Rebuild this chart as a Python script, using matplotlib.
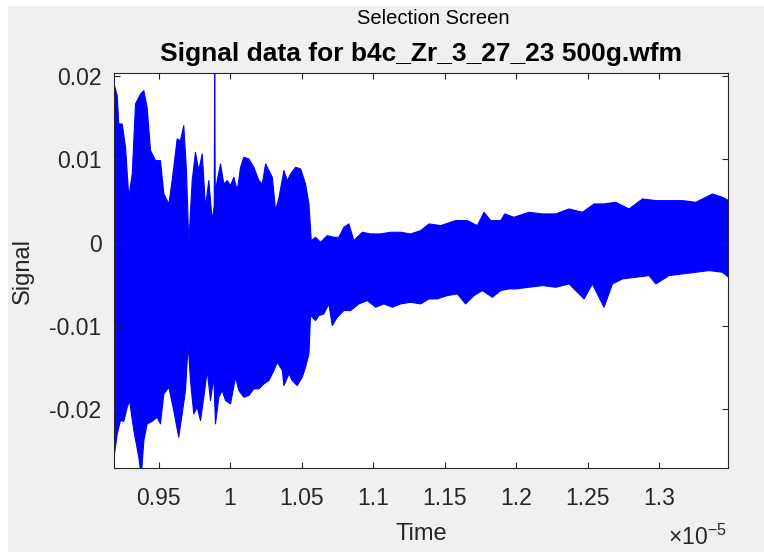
import matplotlib
matplotlib.use("Agg")
import matplotlib.pyplot as plt
import numpy as np
from matplotlib.patches import Rectangle
from matplotlib.ticker import FuncFormatter, MultipleLocator

plt.rcParams["mathtext.fontset"] = "custom"
plt.rcParams["mathtext.rm"] = "Liberation Sans"
plt.rcParams["mathtext.it"] = "Liberation Sans:italic"

# Envelope of the waveform (time in units of 1e-5 s).
upper_time = [
    0.9189, 0.9208, 0.9219, 0.9243, 0.9266, 0.9289, 0.9313, 0.9336, 0.9371, 0.9394,
    0.9417, 0.9441, 0.9476, 0.9510, 0.9534, 0.9569, 0.9592, 0.9627, 0.9650, 0.9673,
    0.9692, 0.9708, 0.9732, 0.9755, 0.9778, 0.9802, 0.9825, 0.9848, 0.9872, 0.9886,
    0.9889, 0.9893, 0.9907, 0.9930, 0.9953, 0.9977, 1.0000, 1.0023, 1.0047, 1.0070,
    1.0093, 1.0128, 1.0163, 1.0198, 1.0222, 1.0245, 1.0268, 1.0292, 1.0315, 1.0339,
    1.0373, 1.0397, 1.0420, 1.0455, 1.0490, 1.0524, 1.0548, 1.0564, 1.0594, 1.0629,
    1.0676, 1.0722, 1.0757, 1.0792, 1.0827, 1.0862, 1.0921, 1.0979, 1.1049, 1.1119,
    1.1189, 1.1259, 1.1329, 1.1387, 1.1469, 1.1573, 1.1655, 1.1725, 1.1771, 1.1818,
    1.1888, 1.1916, 1.1981, 1.2086, 1.2180, 1.2273, 1.2366, 1.2459, 1.2541, 1.2610,
    1.2692, 1.2785, 1.2879, 1.2972, 1.3065, 1.3159, 1.3252, 1.3322, 1.3368, 1.3438,
    1.3480,
]
upper_signal = [
    0.0189, 0.0177, 0.0143, 0.0143, 0.0115, 0.0055, 0.0083, 0.0167, 0.0179, 0.0183,
    0.0163, 0.0111, 0.0099, 0.0099, 0.0059, 0.0047, 0.0075, 0.0125, 0.0123, 0.0141,
    0.0087, 0.0000, 0.0075, 0.0109, 0.0087, 0.0107, 0.0043, 0.0075, 0.0027, 0.0045,
    0.0210, 0.0060, 0.0075, 0.0095, 0.0071, 0.0075, 0.0069, 0.0079, 0.0063, 0.0091,
    0.0103, 0.0101, 0.0091, 0.0075, 0.0071, 0.0095, 0.0087, 0.0079, 0.0039, 0.0055,
    0.0087, 0.0075, 0.0083, 0.0091, 0.0089, 0.0071, 0.0047, 0.0003, 0.0007, 0.0001,
    0.0009, 0.0007, 0.0007, 0.0019, 0.0023, 0.0003, 0.0013, 0.0011, 0.0011, 0.0013,
    0.0013, 0.0011, 0.0015, 0.0023, 0.0021, 0.0027, 0.0027, 0.0021, 0.0037, 0.0027,
    0.0027, 0.0035, 0.0031, 0.0037, 0.0035, 0.0035, 0.0041, 0.0037, 0.0047, 0.0047,
    0.0049, 0.0041, 0.0053, 0.0051, 0.0051, 0.0051, 0.0049, 0.0055, 0.0059, 0.0055,
    0.0051,
]
lower_time = [
    0.9189, 0.9208, 0.9231, 0.9254, 0.9278, 0.9294, 0.9324, 0.9359, 0.9376, 0.9394,
    0.9417, 0.9452, 0.9487, 0.9510, 0.9534, 0.9569, 0.9603, 0.9638, 0.9662, 0.9685,
    0.9704, 0.9720, 0.9743, 0.9767, 0.9790, 0.9813, 0.9837, 0.9860, 0.9883, 0.9895,
    0.9918, 0.9942, 0.9965, 1.0000, 1.0035, 1.0058, 1.0093, 1.0128, 1.0163, 1.0198,
    1.0233, 1.0268, 1.0303, 1.0327, 1.0362, 1.0373, 1.0408, 1.0431, 1.0466, 1.0501,
    1.0524, 1.0548, 1.0559, 1.0594, 1.0617, 1.0652, 1.0687, 1.0711, 1.0746, 1.0792,
    1.0839, 1.0897, 1.0956, 1.1014, 1.1072, 1.1131, 1.1189, 1.1259, 1.1329, 1.1387,
    1.1445, 1.1515, 1.1585, 1.1643, 1.1701, 1.1760, 1.1830, 1.1888, 1.1946, 1.1993,
    1.2086, 1.2180, 1.2273, 1.2366, 1.2471, 1.2529, 1.2610, 1.2669, 1.2739, 1.2832,
    1.2925, 1.2972, 1.3065, 1.3159, 1.3252, 1.3345, 1.3438, 1.3480,
]
lower_signal = [
    -0.0253, -0.0229, -0.0213, -0.0214, -0.0197, -0.0189, -0.0225, -0.0257, -0.0280, -0.0237,
    -0.0217, -0.0214, -0.0209, -0.0217, -0.0181, -0.0173, -0.0201, -0.0233, -0.0205, -0.0177,
    -0.0121, -0.0165, -0.0205, -0.0197, -0.0213, -0.0185, -0.0153, -0.0189, -0.0161, -0.0217,
    -0.0185, -0.0177, -0.0189, -0.0193, -0.0161, -0.0177, -0.0185, -0.0183, -0.0175, -0.0175,
    -0.0169, -0.0165, -0.0153, -0.0143, -0.0153, -0.0171, -0.0157, -0.0165, -0.0171, -0.0161,
    -0.0149, -0.0133, -0.0087, -0.0093, -0.0087, -0.0085, -0.0073, -0.0099, -0.0089, -0.0081,
    -0.0081, -0.0073, -0.0069, -0.0077, -0.0073, -0.0077, -0.0073, -0.0071, -0.0073, -0.0067,
    -0.0067, -0.0063, -0.0061, -0.0073, -0.0063, -0.0057, -0.0065, -0.0057, -0.0055, -0.0055,
    -0.0053, -0.0051, -0.0053, -0.0049, -0.0067, -0.0049, -0.0077, -0.0049, -0.0043, -0.0041,
    -0.0039, -0.0049, -0.0039, -0.0037, -0.0035, -0.0033, -0.0035, -0.0041,
]

x_limits = (0.9189e-5, 1.3480e-5)
y_limits = (-0.02706, 0.02036)
file_name = "b4c_Zr_3_27_23 500g.wfm"

AX_COLOR = "#262626"
PANEL_GRAY = "#f0f0f0"
FONT = "Liberation Sans"

fig = plt.figure(figsize=(7.64, 5.52), dpi=100, facecolor="white")

# MATLAB-like panel behind the axes.
fig.patches.append(Rectangle((8 / 764, 0.0), 1.0, 1 - 6 / 552, transform=fig.transFigure,
                             facecolor=PANEL_GRAY, edgecolor="none", zorder=-10))
fig.text(433 / 764, 1 - 19 / 552, "Selection Screen", ha="center", va="center",
         fontsize=14.5, family=FONT, color="black")

ax = fig.add_axes([114 / 764, 1 - 468 / 552, 614 / 764, 395 / 552])

t_up = np.array(upper_time) * 1e-5
t_lo = np.array(lower_time) * 1e-5
ax.fill_between(t_up, 0, upper_signal, color="#0000ff", linewidth=0.8, edgecolor="#0000ff")
ax.fill_between(t_lo, lower_signal, 0, color="#0000ff", linewidth=0.8, edgecolor="#0000ff")

ax.set_xlim(x_limits)
ax.set_ylim(y_limits)
ax.xaxis.set_major_locator(MultipleLocator(0.05e-5))
ax.yaxis.set_major_locator(MultipleLocator(0.01))
ax.xaxis.set_major_formatter(FuncFormatter(lambda v, _: f"{v / 1e-5:g}"))
ax.yaxis.set_major_formatter(FuncFormatter(lambda v, _: f"{round(v, 4):g}"))

ax.tick_params(direction="in", length=4.5, width=0.8, colors=AX_COLOR, top=True, right=True,
               labelsize=16.5)
ax.tick_params(axis="x", pad=14)
ax.tick_params(axis="y", pad=9)
for lbl in ax.get_xticklabels() + ax.get_yticklabels():
    lbl.set_family(FONT)
for spine in ax.spines.values():
    spine.set_color(AX_COLOR)
    spine.set_linewidth(0.8)

ax.set_title(f"Signal data for {file_name}", fontsize=19, fontweight="bold",
             family=FONT, pad=9)
ax.set_xlabel("Time", fontsize=17, family=FONT, color=AX_COLOR)
ax.set_ylabel("Signal", fontsize=17, family=FONT, color=AX_COLOR)
ax.xaxis.set_label_coords(0.5, -0.14)
ax.yaxis.set_label_coords(-0.13, 0.5)

fig.text(727 / 764, 1 - 537 / 552, r"$\times10^{-5}$", ha="right", va="center",
         fontsize=16.5, color=AX_COLOR)

fig.savefig("out.png", dpi=100, facecolor=fig.get_facecolor())
